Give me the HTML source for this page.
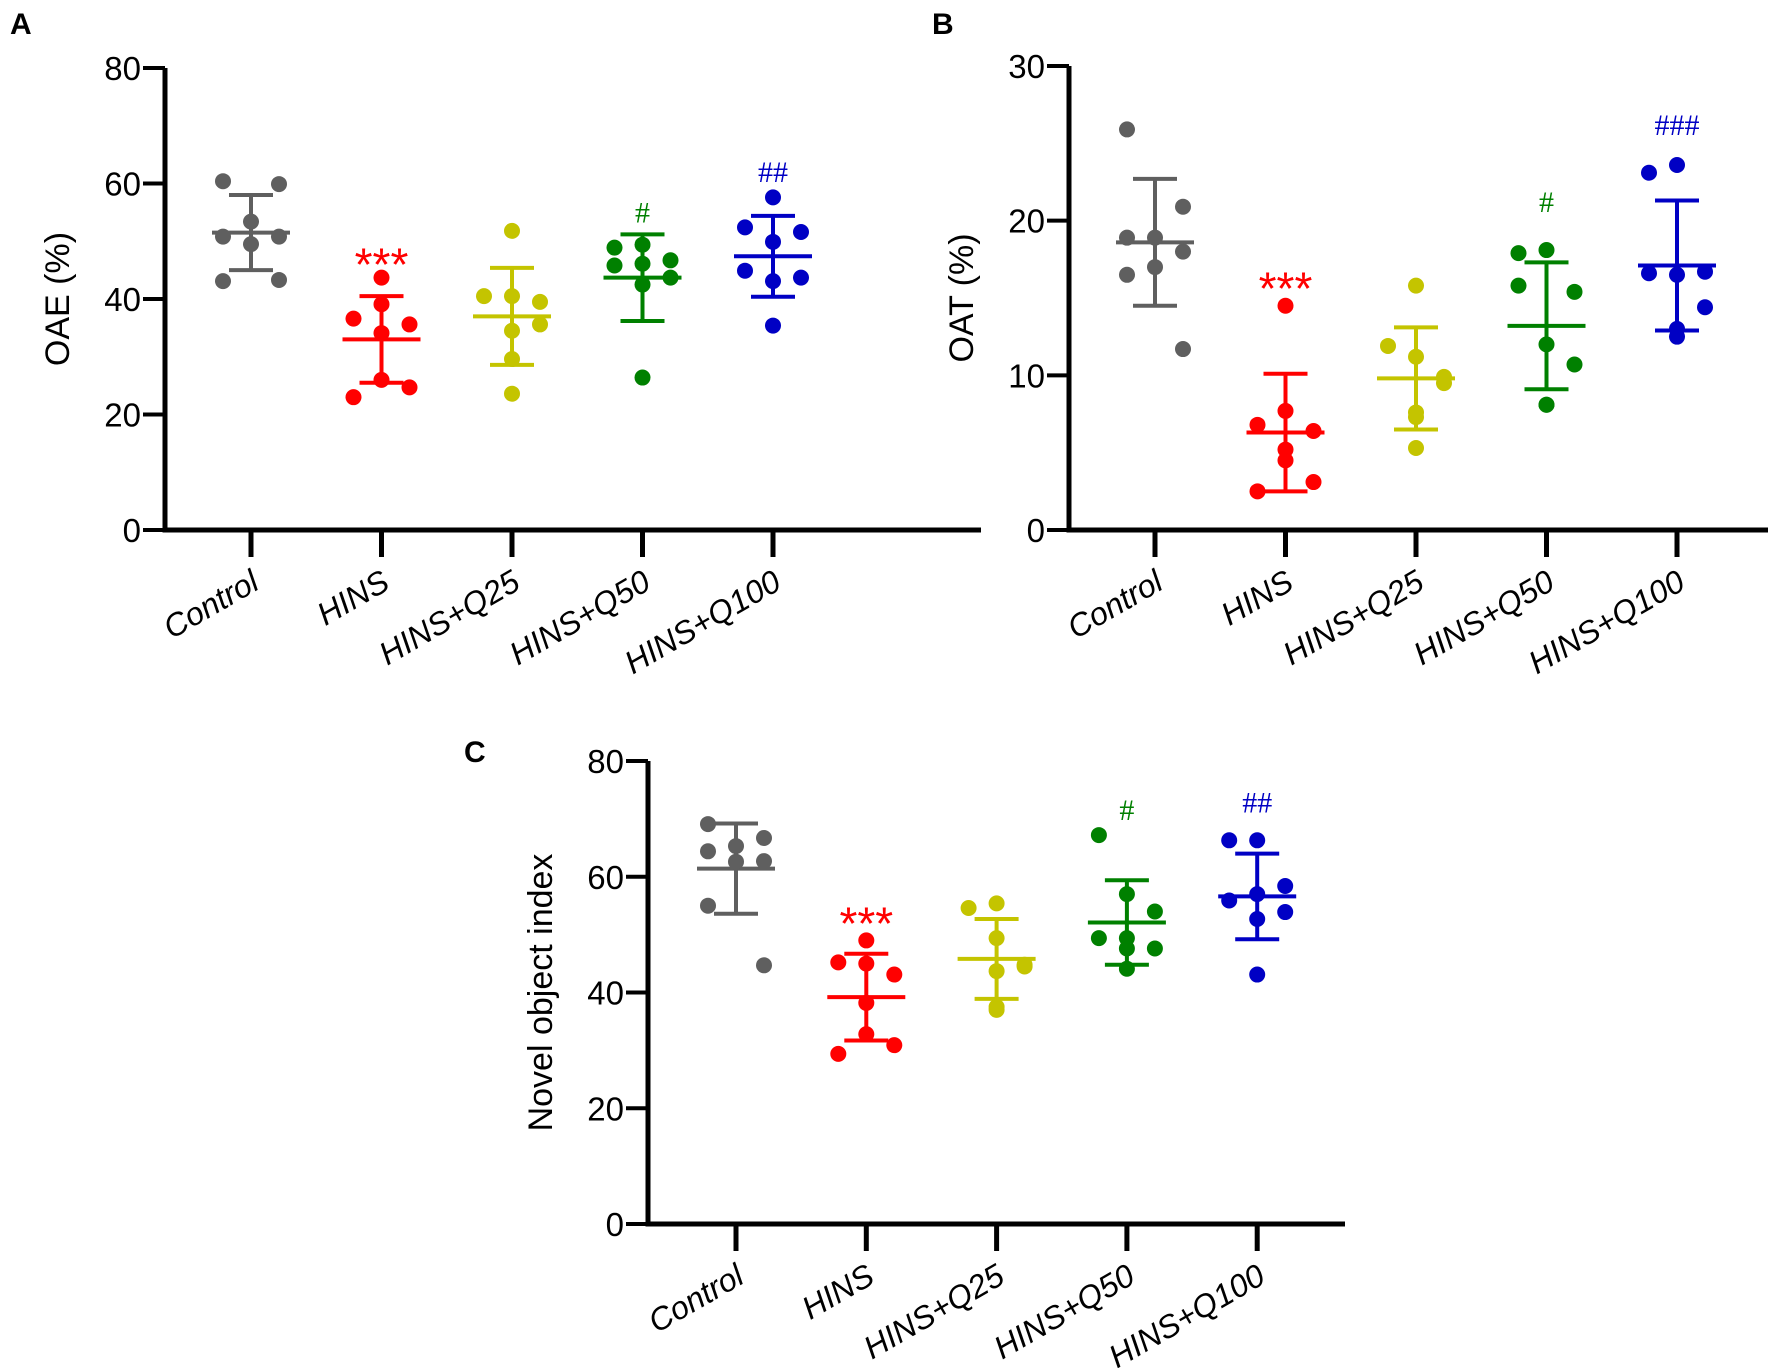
<!DOCTYPE html>
<html><head><meta charset="utf-8"><style>
html,body{margin:0;padding:0;background:#fff}
svg{display:block;font-family:"Liberation Sans",sans-serif}
</style></head><body>
<svg id="fig" width="1772" height="1368" viewBox="0 0 1772 1368"></svg>
<script>
const categories = ["Control","HINS","HINS+Q25","HINS+Q50","HINS+Q100"];
const colors = ["#5f5f5f","#ff0000","#c4c400","#008000","#0000c4"];
const jitter = [[-1,1,0,-1,1,0,-1,1],[0,0,-1,1,0,0,1,-1],[0,-1,0,1,1,0,0,0],[-1,0,1,-1,0,1,0,0],[0,-1,1,0,-1,1,0,0]];
// Panel A
const aPoints = [[60.4,59.9,53.4,50.8,50.8,49.5,43.1,43.3],[43.7,39.1,36.6,35.6,34.1,26,24.7,23],[51.8,40.5,40.5,39.5,35.6,34.5,29.6,23.6],[48.9,49.4,46.7,45.8,46.1,43.7,42.5,26.4],[57.6,52.4,51.6,49.9,44.9,43.7,43.1,35.4]];
const aMean = [51.5,33,37,43.7,47.4];
const aSD = [6.5,7.5,8.4,7.5,7];
const aAnnot = ["","***","","#","##"];
const aAnnotY = [0,47,0,55,62];
const aTicks = [0,20,40,60,80];
// Panel B
const bPoints = [[25.9,20.9,18.9,18.9,18,17,16.5,11.7],[14.5,7.7,6.8,6.4,5.2,4.5,3.1,2.5],[15.8,11.9,11.2,9.9,9.5,7.6,7.3,5.3],[17.9,18.1,15.4,15.8,12,10.7,8.1,8.1],[23.6,23.1,16.7,16.5,16.6,14.4,12.5,13]];
const bMean = [18.6,6.3,9.8,13.2,17.1];
const bSD = [4.1,3.8,3.3,4.1,4.2];
const bAnnot = ["","***","","#","###"];
const bAnnotY = [0,16,0,21.2,26.2];
const bTicks = [0,10,20,30];
// Panel C
const cPoints = [[69.1,66.7,65.3,64.4,62.7,62.6,55,44.7],[49,45,45.2,43.1,38.2,32.8,30.9,29.4],[55.4,54.6,49.4,44.8,44.5,43.7,37,37.5],[67.2,57,54,49.4,49.4,47.6,47.6,44.1],[66.3,66.3,58.4,57,55.9,53.9,52.7,43.1]];
const cMean = [61.4,39.2,45.8,52.1,56.6];
const cSD = [7.8,7.5,6.9,7.3,7.4];
const cAnnot = ["","***","","#","##"];
const cAnnotY = [0,53,0,71.5,72.8];
const cTicks = [0,20,40,60,80];

const NS="http://www.w3.org/2000/svg";
const svg=document.getElementById('fig');
function mk(tag,attrs,parent,text){const e=document.createElementNS(NS,tag);for(const k in attrs)e.setAttribute(k,attrs[k]);if(text!==undefined)e.textContent=text;(parent||svg).appendChild(e);return e;}

function panel(o){
  const g=mk('g',{});
  
  
  const y=v=>o.y0+(o.yTop-o.y0)*v/o.max;
  const x=i=>o.x0+o.first+i*o.step;
  const L=mk('text',{x:o.lx,y:o.ly,'font-size':30,'font-weight':'bold'},g,o.letter);
  
  
  const ax=mk('path',{d:`M${o.x0},${y(o.max)} L${o.x0},${o.y0} L${o.xEnd},${o.y0}`,stroke:'#000','stroke-width':5,fill:'none'},g);
  
  
  o.ticks.forEach(t=>{
    mk('line',{x1:o.x0-22,x2:o.x0,y1:y(t),y2:y(t),stroke:'#000','stroke-width':4},g);
    const tl=mk('text',{x:o.x0-24,y:y(t)+12,'font-size':33,'text-anchor':'end'},g,t);
    
    
  });
  const yt=mk('text',{transform:`translate(${o.x0-96},${(y(o.max)+o.y0)/2}) rotate(-90)`,'font-size':34,'text-anchor':'middle'},g,o.ytitle);
  
  
  categories.forEach((c,i)=>{
    const cx=x(i),col=colors[i];
    mk('line',{x1:cx,x2:cx,y1:o.y0,y2:o.y0+27,stroke:'#000','stroke-width':5},g);
    const cl=mk('text',{transform:`translate(${cx+10},${o.y0+58}) rotate(-30)`,'font-size':32,'font-style':'italic','text-anchor':'end'},g,c);
    
    
    const grp=mk('g',{},g);
    
    
    const m=o.mean[i],s=o.sd[i];
    mk('line',{x1:cx,x2:cx,y1:y(m+s),y2:y(m-s),stroke:col,'stroke-width':4},grp);
    mk('line',{x1:cx-22,x2:cx+22,y1:y(m+s),y2:y(m+s),stroke:col,'stroke-width':4},grp);
    mk('line',{x1:cx-22,x2:cx+22,y1:y(m-s),y2:y(m-s),stroke:col,'stroke-width':4},grp);
    mk('line',{x1:cx-39,x2:cx+39,y1:y(m),y2:y(m),stroke:col,'stroke-width':4},grp);
    o.pts[i].forEach((v,j)=>{
      const d=mk('circle',{cx:cx+jitter[i][j]*28,cy:y(v),r:8,fill:col},grp);
      
      
    });
    if(o.annot[i]){
      const star=o.annot[i].startsWith('*');
      const a=mk('text',{x:cx,y:y(o.annotY[i])+(star?22:10),'font-size':star?46:30,'text-anchor':'middle',fill:col,'font-family':star?'"Liberation Sans",sans-serif':'"Liberation Serif",serif'},grp,o.annot[i]);
      
      
    }
  });
}
panel({name:'panel-a',letter:'A',lx:10,ly:34,x0:165,y0:530,yTop:68,xEnd:981,first:86,step:130.5,max:80,ticks:aTicks,ytitle:'OAE (%)',pts:aPoints,mean:aMean,sd:aSD,annot:aAnnot,annotY:aAnnotY});
panel({name:'panel-b',letter:'B',lx:932,ly:34,x0:1069,y0:530,yTop:66,xEnd:1768,first:86,step:130.5,max:30,ticks:bTicks,ytitle:'OAT (%)',pts:bPoints,mean:bMean,sd:bSD,annot:bAnnot,annotY:bAnnotY});
panel({name:'panel-c',letter:'C',lx:464,ly:762,x0:648,y0:1224,yTop:761,xEnd:1345,first:88,step:130.3,max:80,ticks:cTicks,ytitle:'Novel object index',pts:cPoints,mean:cMean,sd:cSD,annot:cAnnot,annotY:cAnnotY});
</script>
</body></html>
